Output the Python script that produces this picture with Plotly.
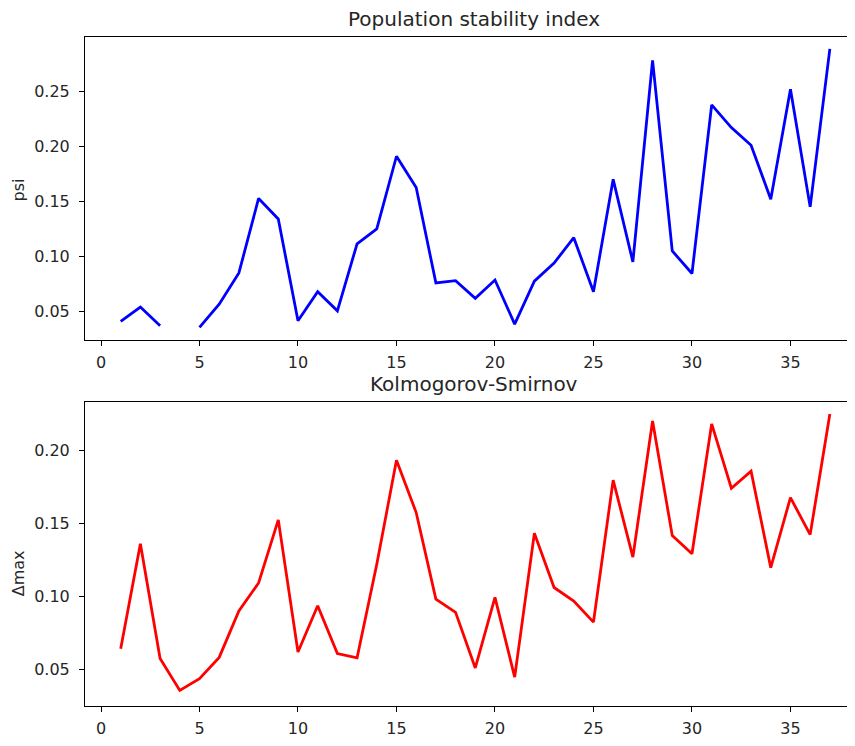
import plotly.graph_objects as go

weeks = list(range(1, 38))
psi = [0.041, 0.054, 0.037, None, 0.0356, 0.0566, 0.085, 0.1527, 0.134, 0.0416,
       0.068, 0.0506, 0.1115, 0.125, 0.191, 0.1626, 0.076, 0.078, 0.062, 0.0786,
       0.0386, 0.0776, 0.094, 0.117, 0.068, 0.170, 0.095, 0.278, 0.105, 0.0845,
       0.2377, 0.217, 0.201, 0.152, 0.2518, 0.145, 0.2885]
ks = [0.0642, 0.136, 0.0575, 0.0357, 0.0437, 0.0583, 0.090, 0.1092, 0.1524, 0.062,
      0.0936, 0.0609, 0.058, 0.122, 0.1931, 0.1574, 0.0982, 0.0891, 0.0511, 0.0993,
      0.0448, 0.1432, 0.1061, 0.0968, 0.0824, 0.1796, 0.1269, 0.220, 0.1416, 0.1292,
      0.218, 0.174, 0.1857, 0.1197, 0.1676, 0.1423, 0.2248]
x_ticks = [0, 5, 10, 15, 20, 25, 30, 35]
psi_ticks = [0.05, 0.10, 0.15, 0.20, 0.25]
ks_ticks = [0.05, 0.10, 0.15, 0.20]

FONT = "DejaVu Sans"
TXT = "#262626"
OFF = 8  # page body margin
W, H = 855 - 2 * OFF, 746 - 2 * OFF


def px_x(p):
    return (p - OFF) / W


def px_y(p):
    return 1 - (p - OFF) / H


fig = go.Figure()
fig.add_trace(go.Scatter(x=weeks, y=psi, mode="lines", line=dict(color="#0000ff", width=2.8),
                         connectgaps=False, xaxis="x", yaxis="y", showlegend=False))
fig.add_trace(go.Scatter(x=weeks, y=ks, mode="lines", line=dict(color="#ff0000", width=2.8),
                         xaxis="x2", yaxis="y2", showlegend=False))

xdom = [px_x(85), 1.0]
ax_common = dict(showline=True, linecolor="black", linewidth=1,
                 ticks="outside", ticklen=5, tickwidth=1, tickcolor="black",
                 showgrid=False, zeroline=False,
                 tickfont=dict(family=FONT, size=16, color=TXT))

xr = [-0.812, 37.87]
fig.update_layout(
    width=W, height=H,
    margin=dict(l=0, r=0, t=0, b=0),
    plot_bgcolor="white", paper_bgcolor="white",
    font=dict(family=FONT, color=TXT),
    xaxis=dict(domain=xdom, anchor="y", range=xr, tickvals=x_ticks, mirror=True,
               ticktext=[str(v) for v in x_ticks], ticklabelstandoff=3, **ax_common),
    yaxis=dict(domain=[px_y(343), px_y(37)], anchor="x", range=[0.0239, 0.2995],
               tickvals=psi_ticks, ticktext=[f"{v:.2f}" for v in psi_ticks],
               ticklabelstandoff=6, **ax_common),
    xaxis2=dict(domain=xdom, anchor="y2", range=xr, tickvals=x_ticks, mirror=True,
                ticktext=[str(v) for v in x_ticks], ticklabelstandoff=3, **ax_common),
    yaxis2=dict(domain=[px_y(711.7), px_y(405)], anchor="x2", range=[0.0251, 0.2332],
                tickvals=ks_ticks, ticktext=[f"{v:.2f}" for v in ks_ticks],
                ticklabelstandoff=6, **ax_common),
    annotations=[
        dict(text="Population stability index", x=px_x(474), y=px_y(19), xref="paper", yref="paper",
             xanchor="center", yanchor="middle", showarrow=False,
             font=dict(family=FONT, size=20, color=TXT)),
        dict(text="Kolmogorov-Smirnov", x=px_x(474), y=px_y(387), xref="paper", yref="paper",
             xanchor="center", yanchor="middle", showarrow=False,
             font=dict(family=FONT, size=20, color=TXT)),
        dict(text="psi", x=px_x(18), y=px_y(192), xref="paper", yref="paper", textangle=-90,
             xanchor="center", yanchor="middle", showarrow=False,
             font=dict(family=FONT, size=16, color=TXT)),
        dict(text="Δmax", x=px_x(18), y=px_y(578), xref="paper", yref="paper", textangle=-90,
             xanchor="center", yanchor="middle", showarrow=False,
             font=dict(family=FONT, size=16, color=TXT)),
    ],
)

fig.write_html("out.html")
